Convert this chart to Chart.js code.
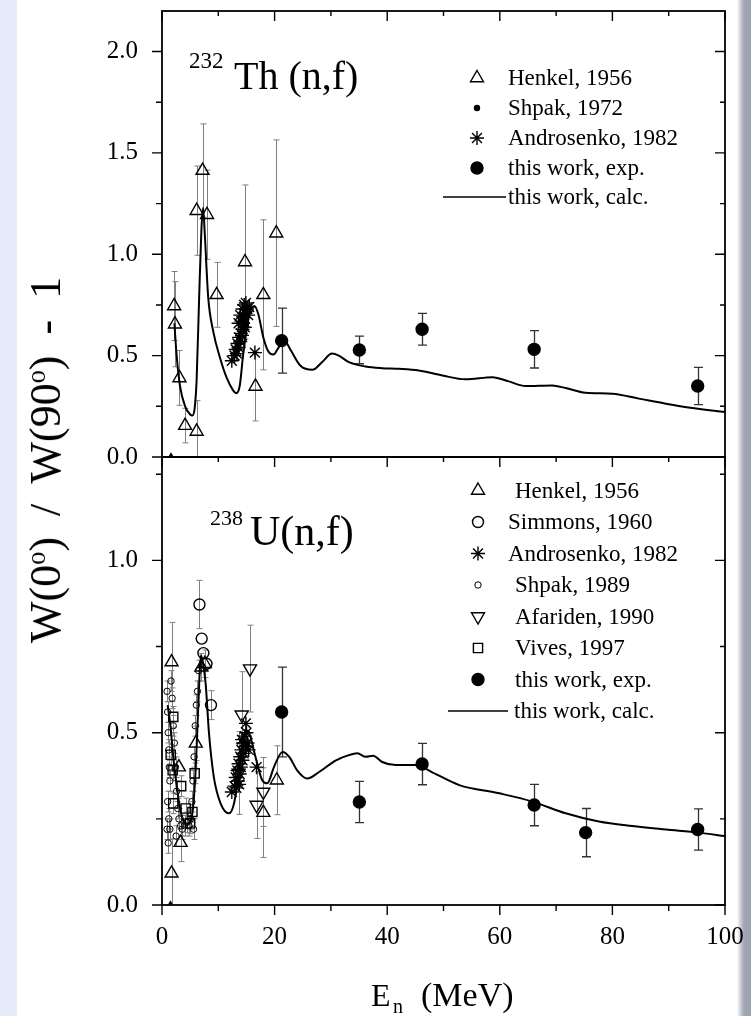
<!DOCTYPE html>
<html><head><meta charset="utf-8">
<script src="https://cdn.jsdelivr.net/npm/chart.js@4.4.1/dist/chart.umd.min.js"></script>
<style>
html,body{margin:0;padding:0;}
body{width:751px;height:1016px;position:relative;overflow:hidden;
 background:linear-gradient(to right,#e7ebfa 0,#e7ebfa 17px,#fff 17px,#fff 737px,#d3d6df 740px,#a0a5b3 744px,#9ca1b0 751px);
 font-family:"Liberation Serif","Times New Roman",serif;color:#000;}
canvas{position:absolute;left:0;}
#cTop{top:0;}
#cBot{top:440px;}
.t{position:absolute;white-space:nowrap;line-height:1;}
sup{font-size:60%;vertical-align:0.55em;line-height:0;}
</style></head><body>
<canvas id="cTop" width="751" height="480"></canvas>
<canvas id="cBot" width="751" height="576"></canvas>
<div class="t" style="left:189px;top:48.5px;font-size:23px;">232</div>
<div class="t" style="left:234px;top:55.5px;font-size:40px;">Th (n,f)</div>
<div class="t" style="left:210px;top:506.6px;font-size:22px;">238</div>
<div class="t" style="left:250px;top:510px;font-size:42px;">U(n,f)</div>
<div class="t" id="ytitle" style="left:46px;top:460px;font-size:44px;word-spacing:10px;transform:translate(-50%,-50%) rotate(-90deg);">W(0<sup>o</sup>) / W(90<sup>o</sup>) - 1</div>
<div class="t" style="left:371px;top:979px;font-size:32px;">E</div>
<div class="t" style="left:393px;top:996px;font-size:20px;">n</div>
<div class="t" style="left:421px;top:977.5px;font-size:34px;">(MeV)</div>
<script>
// ---------------- DATA ----------------
const xTickValues = [0, 20, 40, 60, 80, 100];
const xTickLabels = ['0', '20', '40', '60', '80', '100'];
const xMinorTicks = [10, 30, 50, 70, 90];

const thYTickValues = [0, 0.5, 1.0, 1.5, 2.0];
const thYTickLabels = ['0.0', '0.5', '1.0', '1.5', '2.0'];
const thYMinorTicks = [0.25, 0.75, 1.25, 1.75];

const uYTickValues = [0, 0.5, 1.0];
const uYTickLabels = ['0.0', '0.5', '1.0'];
const uYMinorTicks = [0.25, 0.75, 1.25];

// --- 232Th(n,f) ---
const thLegendLabels = ['Henkel, 1956', 'Shpak, 1972', 'Androsenko, 1982', 'this work, exp.', 'this work, calc.'];

const thHenkelE   = [2.15, 2.3, 3.1, 4.1, 6.15, 6.15, 7.2, 8.0, 9.7, 14.75, 16.6, 18.0, 20.3, 1.6];
const thHenkelV   = [0.745, 0.655, 0.39, 0.155, 0.126, 1.215, 1.413, 1.195, 0.80, 0.962, 0.348, 0.80, 1.104, -0.02];
const thHenkelErr = [0.17, 0.21, 0.135, 0.085, 0.152, 0.22, 0.23, 0.22, 0.16, 0.38, 0.17, 0.37, 0.46, 0];

const thShpakE = [14.3, 14.6, 14.9];
const thShpakV = [0.62, 0.68, 0.65];

const thAndroE = [12.4, 12.9, 13.1, 13.3, 13.4, 13.6, 13.7, 13.9, 14.0, 14.2, 14.3, 13.6, 13.9, 14.1, 14.3, 14.5, 14.6, 14.8, 14.9, 15.1, 15.3, 15.5, 14.4, 14.7, 16.5];
const thAndroV = [0.475, 0.50, 0.53, 0.51, 0.56, 0.54, 0.59, 0.57, 0.61, 0.60, 0.63, 0.66, 0.70, 0.67, 0.73, 0.69, 0.75, 0.71, 0.76, 0.73, 0.70, 0.74, 0.66, 0.64, 0.515];

const thExpE   = [21.25, 35.05, 46.2, 66.1, 95.15];
const thExpV   = [0.574, 0.528, 0.63, 0.531, 0.35];
const thExpErr = [0.16, 0.068, 0.078, 0.092, 0.092];

const thCalcE = [2.2, 2.6, 3.2, 4.1, 5.0, 5.4, 5.8, 6.15, 6.6, 7.0, 7.3, 7.6, 8.2, 9.1, 10.3, 11.5, 12.6, 13.2, 13.8, 14.4, 15.2, 15.9, 16.4, 17.1, 18.0, 18.9, 19.8, 20.7, 21.7, 22.9, 24.6, 26.7, 28.5, 30.2, 31.4, 33.2, 36.2, 39.1, 42.1, 45.6, 49.8, 53.9, 58.7, 61.6, 64.6, 69.3, 71.7, 75.2, 80.0, 84.7, 89.5, 94.2, 100];
const thCalcV = [0.66, 0.50, 0.35, 0.25, 0.21, 0.205, 0.24, 0.38, 0.79, 1.12, 1.23, 1.10, 0.79, 0.62, 0.49, 0.39, 0.33, 0.315, 0.35, 0.50, 0.66, 0.735, 0.745, 0.705, 0.59, 0.52, 0.505, 0.54, 0.575, 0.525, 0.45, 0.43, 0.47, 0.51, 0.50, 0.468, 0.446, 0.438, 0.435, 0.427, 0.402, 0.383, 0.394, 0.373, 0.35, 0.353, 0.34, 0.317, 0.312, 0.288, 0.263, 0.242, 0.222];

// --- 238U(n,f) ---
const uLegendLabels = ['Henkel, 1956', 'Simmons, 1960', 'Androsenko, 1982', 'Shpak, 1989', 'Afariden, 1990', 'Vives, 1997', 'this work, exp.', 'this work, calc.'];

const uHenkelE   = [1.7, 1.7, 3.3, 3.0, 6.0, 7.0, 7.6, 18.0, 20.4, 1.5];
const uHenkelV   = [0.705, 0.092, 0.181, 0.40, 0.469, 0.69, 0.70, 0.268, 0.362, -0.012];
const uHenkelErr = [0.115, 0.10, 0.055, 0, 0.05, 0.04, 0.04, 0.13, 0.10, 0];

const uSimmonsE   = [6.65, 7.05, 7.35, 7.9, 8.7];
const uSimmonsV   = [0.872, 0.773, 0.731, 0.70, 0.58];
const uSimmonsErr = [0.07, 0, 0, 0, 0.042];

const uAndroE = [12.4, 12.9, 13.1, 13.2, 13.4, 13.5, 13.6, 13.8, 13.9, 14.0, 14.1, 14.3, 14.4, 14.5, 14.7, 14.8, 15.0, 15.2, 15.4, 14.9, 16.8, 13.7, 14.2];
const uAndroV = [0.328, 0.345, 0.37, 0.34, 0.39, 0.36, 0.41, 0.38, 0.43, 0.40, 0.45, 0.42, 0.47, 0.44, 0.49, 0.46, 0.50, 0.47, 0.45, 0.527, 0.40, 0.35, 0.48];

const uShpakE = [0.9, 1.0, 1.1, 1.2, 1.3, 1.4, 1.0, 1.2, 1.4, 1.6, 1.8, 2.0, 2.2, 2.4, 2.6, 2.8, 3.0, 3.3, 3.6, 4.0, 4.4, 4.8, 5.1, 5.3, 5.5, 5.7, 5.9, 6.1, 6.3, 6.5, 1.1, 0.9, 2.5, 5.6];
const uShpakV = [0.62, 0.56, 0.50, 0.45, 0.40, 0.36, 0.30, 0.25, 0.22, 0.65, 0.60, 0.52, 0.47, 0.40, 0.33, 0.28, 0.25, 0.23, 0.22, 0.23, 0.24, 0.23, 0.25, 0.30, 0.36, 0.43, 0.52, 0.58, 0.62, 0.68, 0.18, 0.22, 0.20, 0.22];
const uShpakErr = [0.03, 0.03, 0.03, 0.03, 0.03, 0.03, 0.03, 0.03, 0.03, 0.03, 0.03, 0.03, 0.03, 0.03, 0.03, 0.03, 0.03, 0.03, 0.03, 0.03, 0.03, 0.03, 0.03, 0.03, 0.03, 0.03, 0.03, 0.03, 0.03, 0.03, 0.03, 0.03, 0.03, 0.03];

const uAfaridenE   = [15.63, 14.15, 13.6, 16.8, 18.0];
const uAfaridenV   = [0.686, 0.552, 0.383, 0.29, 0.328];
const uAfaridenErr = [0.126, 0.125, 0.12, 0.097, 0.10];

const uVivesE   = [2.0, 1.55, 1.9, 3.4, 2.0, 4.2, 5.4, 5.0, 5.8];
const uVivesV   = [0.546, 0.436, 0.391, 0.345, 0.295, 0.28, 0.27, 0.237, 0.382];
const uVivesErr = [0.03, 0.03, 0.03, 0.03, 0.03, 0.03, 0.03, 0.03, 0.03];

const uExpE   = [21.25, 35.05, 46.2, 66.1, 75.25, 95.15];
const uExpV   = [0.56, 0.299, 0.409, 0.29, 0.21, 0.219];
const uExpErr = [0.13, 0.06, 0.06, 0.06, 0.07, 0.06];

const uCalcE = [1.0, 1.5, 2.0, 2.5, 3.0, 3.5, 4.0, 4.5, 5.0, 5.5, 6.0, 6.5, 6.9, 7.3, 7.75, 8.35, 9.2, 10.4, 11.9, 12.8, 13.7, 14.9, 15.45, 16.6, 17.8, 18.7, 19.9, 21.4, 22.6, 24.0, 25.8, 27.9, 30.9, 33.2, 34.7, 36.2, 37.5, 39.1, 41.5, 45.1, 48.0, 52.8, 59.9, 65.8, 71.7, 77.6, 83.5, 89.5, 95.4, 100];
const uCalcV = [0.58, 0.52, 0.43, 0.36, 0.30, 0.26, 0.24, 0.235, 0.24, 0.28, 0.40, 0.60, 0.725, 0.70, 0.643, 0.498, 0.372, 0.295, 0.266, 0.295, 0.391, 0.507, 0.50, 0.43, 0.362, 0.353, 0.401, 0.444, 0.43, 0.391, 0.367, 0.386, 0.42, 0.435, 0.44, 0.43, 0.433, 0.415, 0.406, 0.406, 0.385, 0.348, 0.324, 0.30, 0.266, 0.242, 0.229, 0.219, 0.21, 0.20];

// ---------------- HELPERS ----------------
const FONT = '"Liberation Serif","Times New Roman",serif';
function pts(E, V) { return E.map((e, i) => ({x: e, y: V[i]})); }
function markers(label, E, V, err, style) {
  return Object.assign({
    label, data: pts(E, V), err: err || null, showLine: false,
    pointBorderColor: '#000', pointBackgroundColor: 'rgba(0,0,0,0)',
    pointBorderWidth: 1.4, pointHoverRadius: 0, clip: 0
  }, style);
}
function calcLine(label, E, V) {
  return {label, data: pts(E, V), showLine: true, borderColor: '#000', borderWidth: 2,
    pointRadius: 0, pointHoverRadius: 0, cubicInterpolationMode: 'monotone', fill: false, isLine: true};
}

const errPlugin = {
  id: 'errbars',
  beforeDatasetsDraw(chart) {
    const {ctx, chartArea: a} = chart;
    const x = chart.scales.x, y = chart.scales.y;
    ctx.save();
    ctx.beginPath(); ctx.rect(a.left, a.top, a.right - a.left, a.bottom - a.top); ctx.clip();
    chart.data.datasets.forEach(ds => {
      if (!ds.err) return;
      ctx.strokeStyle = ds.errColor || '#7a7a7a';
      ctx.lineWidth = ds.errWidth || 1;
      const cw = ds.capHalf || 3;
      ds.data.forEach((p, i) => {
        const e = ds.err[i]; if (!e) return;
        const px = Math.round(x.getPixelForValue(p.x)) + 0.5;
        const y1 = y.getPixelForValue(p.y + e), y2 = y.getPixelForValue(p.y - e);
        ctx.beginPath();
        ctx.moveTo(px, y1); ctx.lineTo(px, y2);
        ctx.moveTo(px - cw, y1); ctx.lineTo(px + cw, y1);
        ctx.moveTo(px - cw, y2); ctx.lineTo(px + cw, y2);
        ctx.stroke();
      });
    });
    ctx.restore();
  }
};

const framePlugin = {
  id: 'frame',
  afterDatasetsDraw(chart, args, o) {
    const {ctx, chartArea: a} = chart;
    const x = chart.scales.x, y = chart.scales.y;
    ctx.save();
    ctx.strokeStyle = '#000';
    ctx.lineWidth = 1.4;
    ctx.beginPath();
    const yl = (v, outL, inR) => { const p = y.getPixelForValue(v); ctx.moveTo(a.left - outL, p); ctx.lineTo(a.left, p); ctx.moveTo(a.right, p); ctx.lineTo(a.right - inR, p); };
    const xl = (v, inT, outB) => { const p = x.getPixelForValue(v); ctx.moveTo(p, a.top); ctx.lineTo(p, a.top + inT); if (outB) { ctx.moveTo(p, a.bottom); ctx.lineTo(p, a.bottom + outB); } };
    o.yMajor.forEach(v => yl(v, 10, 10));
    o.yMinor.forEach(v => yl(v, 6, 5));
    o.xMajor.forEach(v => xl(v, 10, o.bottomTicks ? 10 : 0));
    o.xMinor.forEach(v => xl(v, 5, o.bottomTicks ? 6 : 0));
    ctx.stroke();
    ctx.lineWidth = 1.8;
    ctx.strokeRect(a.left, a.top, a.right - a.left, a.bottom - a.top);
    ctx.restore();
  }
};

const legendPlugin = {
  id: 'legendx',
  afterDraw(chart, args, o) {
    const ctx = chart.ctx;
    ctx.save();
    ctx.font = o.font;
    ctx.textBaseline = 'middle';
    ctx.textAlign = 'left';
    o.items.forEach((dsIndex, i) => {
      const ds = chart.data.datasets[dsIndex];
      const yy = o.rowY[i];
      if (ds.isLine) {
        ctx.strokeStyle = '#000'; ctx.lineWidth = 1.6;
        ctx.beginPath(); ctx.moveTo(o.lineX0, yy); ctx.lineTo(o.lineX1, yy); ctx.stroke();
      } else {
        ctx.strokeStyle = '#000';
        ctx.fillStyle = ds.pointBackgroundColor;
        ctx.lineWidth = ds.pointBorderWidth;
        Chart.helpers.drawPoint(ctx, {pointStyle: ds.pointStyle, radius: ds.legendRadius || ds.pointRadius,
          rotation: ds.pointRotation || 0, borderWidth: ds.pointBorderWidth}, o.markerX, yy);
      }
      ctx.fillStyle = '#000';
      ctx.fillText(o.labels[i], o.textX[i], yy + 1);
    });
    ctx.restore();
  }
};

function makeChart(id, datasets, cfg) {
  return new Chart(document.getElementById(id), {
    type: 'scatter',
    data: {datasets},
    options: {
      responsive: false, animation: false, devicePixelRatio: 1,
      events: [],
      layout: {padding: cfg.padding},
      scales: {
        x: {
          type: 'linear', min: 0, max: 100, display: cfg.showX,
          afterBuildTicks: s => { s.ticks = xTickValues.map(v => ({value: v})); },
          afterFit: s => { s.height = cfg.showX ? 50 : 0; s.paddingLeft = 0; s.paddingRight = 0; },
          grid: {display: false, tickLength: 10},
          border: {display: false},
          ticks: {color: '#000', font: {family: FONT, size: 25}, padding: 7, maxRotation: 0,
            callback: (v, i) => xTickLabels[i]}
        },
        y: {
          type: 'linear', min: 0, max: cfg.yMax,
          afterBuildTicks: s => { s.ticks = cfg.yTicks.map(v => ({value: v})); },
          afterFit: s => { s.width = 60; s.paddingTop = 0; s.paddingBottom = 0; },
          grid: {display: false, tickLength: 10},
          border: {display: false},
          ticks: {color: '#000', font: {family: FONT, size: 25}, padding: 14,
            callback: (v, i) => cfg.yLabels[i]}
        }
      },
      plugins: {
        legend: {display: false}, tooltip: {enabled: false},
        frame: {yMajor: cfg.yTicks, yMinor: cfg.yMinor, xMajor: xTickValues, xMinor: xMinorTicks, bottomTicks: cfg.showX},
        legendx: cfg.legend
      }
    },
    plugins: [errPlugin, framePlugin, legendPlugin]
  });
}

const litErr = {errColor: '#808080', errWidth: 1, capHalf: 3};
const expErr = {errColor: '#333', errWidth: 1.3, capHalf: 4.5};

// ---- top chart ----
makeChart('cTop', [
  markers('Henkel, 1956', thHenkelE, thHenkelV, thHenkelErr, Object.assign({pointStyle: 'triangle', pointRadius: 7.5}, litErr)),
  markers('Shpak, 1972', thShpakE, thShpakV, null, {pointStyle: 'circle', pointRadius: 2.5, pointBackgroundColor: '#000'}),
  markers('Androsenko, 1982', thAndroE, thAndroV, null, {pointStyle: 'star', pointRadius: 7}),
  markers('this work, exp.', thExpE, thExpV, thExpErr, Object.assign({pointStyle: 'circle', pointRadius: 6, pointBackgroundColor: '#000'}, expErr)),
  calcLine('this work, calc.', thCalcE, thCalcV)
], {
  padding: {left: 102, right: 26, top: 11, bottom: 23},
  showX: false, yMax: 2.2, yTicks: thYTickValues, yLabels: thYTickLabels, yMinor: thYMinorTicks,
  legend: {font: '23px ' + FONT, items: [0, 1, 2, 3, 4], labels: thLegendLabels,
    markerX: 477, textX: [508, 508, 508, 508, 508], rowY: [78, 108, 138, 168, 197], lineX0: 443, lineX1: 506}
});

// ---- bottom chart ----
makeChart('cBot', [
  markers('Henkel, 1956', uHenkelE, uHenkelV, uHenkelErr, Object.assign({pointStyle: 'triangle', pointRadius: 7.5}, litErr)),
  markers('Simmons, 1960', uSimmonsE, uSimmonsV, uSimmonsErr, Object.assign({pointStyle: 'circle', pointRadius: 5.5}, litErr)),
  markers('Androsenko, 1982', uAndroE, uAndroV, null, {pointStyle: 'star', pointRadius: 7}),
  markers('Shpak, 1989', uShpakE, uShpakV, uShpakErr, Object.assign({pointStyle: 'circle', pointRadius: 3.2, pointBorderWidth: 1}, litErr)),
  markers('Afariden, 1990', uAfaridenE, uAfaridenV, uAfaridenErr, Object.assign({pointStyle: 'triangle', pointRotation: 180, pointRadius: 7.5}, litErr)),
  markers('Vives, 1997', uVivesE, uVivesV, uVivesErr, Object.assign({pointStyle: 'rect', pointRadius: 6.5}, litErr)),
  markers('this work, exp.', uExpE, uExpV, uExpErr, Object.assign({pointStyle: 'circle', pointRadius: 6, pointBackgroundColor: '#000'}, expErr)),
  calcLine('this work, calc.', uCalcE, uCalcV)
], {
  padding: {left: 102, right: 26, top: 17, bottom: 61},
  showX: true, yMax: 1.3, yTicks: uYTickValues, yLabels: uYTickLabels, yMinor: uYMinorTicks,
  legend: {font: '23px ' + FONT, items: [0, 1, 2, 3, 4, 5, 6, 7], labels: uLegendLabels,
    markerX: 478, textX: [515, 508, 508, 515, 515, 515, 515, 514],
    rowY: [50.5, 82, 113.5, 145, 176.5, 208, 239.5, 271], lineX0: 448, lineX1: 508}
});
</script>
</body></html>
